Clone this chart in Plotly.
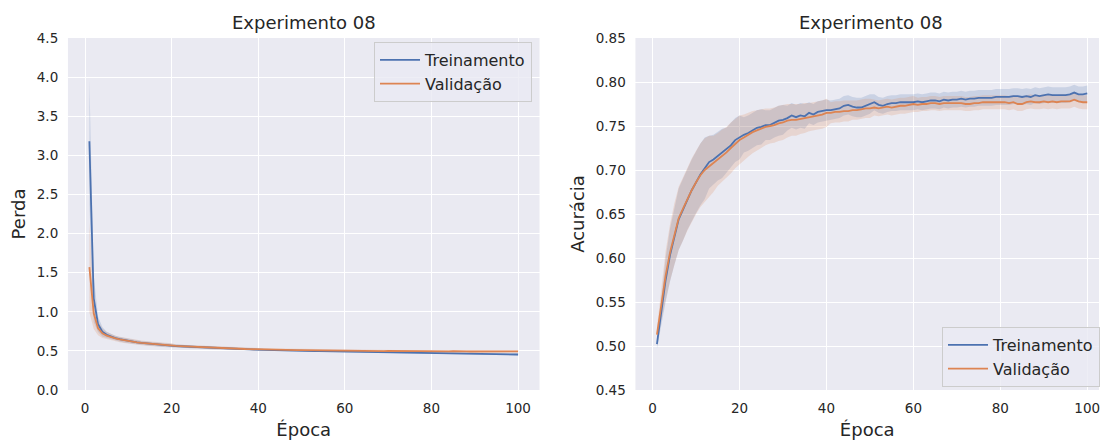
import plotly.graph_objects as go

# ---- data -----------------------------------------------------------------
epochs = list(range(1, 101))

train_loss = [
    3.180, 1.170, 0.840, 0.745, 0.705, 0.680, 0.663, 0.649, 0.637, 0.626,
    0.617, 0.609, 0.602, 0.596, 0.590, 0.585, 0.580, 0.576, 0.572, 0.566,
    0.562, 0.559, 0.556, 0.553, 0.550, 0.547, 0.544, 0.541, 0.538, 0.535,
    0.533, 0.531, 0.529, 0.527, 0.525, 0.523, 0.521, 0.519, 0.517, 0.515,
    0.513, 0.512, 0.510, 0.509, 0.507, 0.506, 0.505, 0.503, 0.502, 0.500,
    0.499, 0.498, 0.497, 0.496, 0.495, 0.493, 0.492, 0.491, 0.489, 0.488,
    0.487, 0.487, 0.486, 0.485, 0.484, 0.483, 0.482, 0.481, 0.479, 0.478,
    0.477, 0.476, 0.476, 0.475, 0.474, 0.473, 0.471, 0.469, 0.468, 0.467,
    0.467, 0.466, 0.466, 0.465, 0.465, 0.464, 0.463, 0.462, 0.462, 0.461,
    0.460, 0.460, 0.459, 0.458, 0.458, 0.457, 0.456, 0.456, 0.455, 0.454,
]
train_loss_ci = [
    0.800, 0.300, 0.100, 0.060, 0.040, 0.035, 0.030, 0.030, 0.030, 0.030,
    0.025, 0.025, 0.025, 0.025, 0.025, 0.025, 0.025, 0.025, 0.025, 0.025,
    0.020, 0.020, 0.020, 0.020, 0.020, 0.020, 0.020, 0.020, 0.020, 0.020,
    0.018, 0.018, 0.018, 0.018, 0.018, 0.018, 0.018, 0.018, 0.018, 0.018,
    0.015, 0.015, 0.015, 0.015, 0.015, 0.015, 0.015, 0.015, 0.015, 0.015,
    0.014, 0.014, 0.014, 0.014, 0.014, 0.014, 0.014, 0.014, 0.014, 0.014,
    0.013, 0.013, 0.013, 0.013, 0.013, 0.013, 0.013, 0.013, 0.013, 0.013,
    0.013, 0.013, 0.013, 0.013, 0.013, 0.013, 0.013, 0.013, 0.013, 0.013,
    0.012, 0.012, 0.012, 0.012, 0.012, 0.012, 0.012, 0.012, 0.012, 0.012,
    0.012, 0.012, 0.012, 0.012, 0.012, 0.012, 0.012, 0.012, 0.012, 0.012,
]
val_loss = [
    1.570, 0.980, 0.790, 0.725, 0.695, 0.675, 0.660, 0.647, 0.636, 0.626,
    0.617, 0.609, 0.602, 0.596, 0.591, 0.586, 0.581, 0.577, 0.573, 0.568,
    0.563, 0.560, 0.557, 0.554, 0.551, 0.548, 0.546, 0.543, 0.540, 0.537,
    0.535, 0.533, 0.531, 0.529, 0.528, 0.526, 0.524, 0.523, 0.521, 0.519,
    0.518, 0.517, 0.516, 0.515, 0.514, 0.513, 0.512, 0.511, 0.510, 0.509,
    0.508, 0.507, 0.507, 0.506, 0.505, 0.504, 0.508, 0.504, 0.503, 0.502,
    0.502, 0.501, 0.501, 0.500, 0.500, 0.499, 0.501, 0.499, 0.498, 0.499,
    0.498, 0.497, 0.498, 0.497, 0.496, 0.497, 0.495, 0.495, 0.494, 0.494,
    0.494, 0.493, 0.494, 0.493, 0.497, 0.493, 0.492, 0.493, 0.492, 0.492,
    0.491, 0.492, 0.491, 0.492, 0.492, 0.494, 0.491, 0.492, 0.492, 0.493,
]
val_loss_ci = [
    0.580, 0.200, 0.090, 0.060, 0.045, 0.040, 0.035, 0.035, 0.035, 0.035,
    0.030, 0.030, 0.030, 0.030, 0.030, 0.030, 0.030, 0.030, 0.030, 0.030,
    0.020, 0.020, 0.020, 0.020, 0.020, 0.020, 0.020, 0.020, 0.020, 0.020,
    0.018, 0.018, 0.018, 0.018, 0.018, 0.018, 0.018, 0.018, 0.018, 0.018,
    0.015, 0.015, 0.015, 0.015, 0.015, 0.015, 0.015, 0.015, 0.015, 0.015,
    0.014, 0.014, 0.014, 0.014, 0.014, 0.014, 0.014, 0.014, 0.014, 0.014,
    0.013, 0.013, 0.013, 0.013, 0.013, 0.013, 0.013, 0.013, 0.013, 0.013,
    0.013, 0.013, 0.013, 0.013, 0.013, 0.013, 0.013, 0.013, 0.013, 0.013,
    0.012, 0.012, 0.012, 0.012, 0.012, 0.012, 0.012, 0.012, 0.012, 0.012,
    0.012, 0.012, 0.012, 0.012, 0.012, 0.012, 0.012, 0.012, 0.012, 0.012,
]

train_acc = [
    0.502, 0.540, 0.575, 0.603, 0.625, 0.644, 0.655, 0.667, 0.677, 0.686,
    0.695, 0.702, 0.709, 0.712, 0.716, 0.719, 0.723, 0.728, 0.734, 0.737,
    0.740, 0.742, 0.745, 0.748, 0.749, 0.751, 0.751, 0.754, 0.756, 0.757,
    0.759, 0.762, 0.760, 0.762, 0.761, 0.765, 0.763, 0.766, 0.767, 0.768,
    0.768, 0.769, 0.770, 0.773, 0.774, 0.772, 0.771, 0.771, 0.773, 0.775,
    0.777, 0.774, 0.773, 0.775, 0.776, 0.776, 0.777, 0.777, 0.777, 0.777,
    0.778, 0.777, 0.778, 0.779, 0.779, 0.778, 0.780, 0.779, 0.780, 0.780,
    0.781, 0.780, 0.781, 0.781, 0.782, 0.782, 0.782, 0.782, 0.783, 0.783,
    0.783, 0.783, 0.784, 0.784, 0.783, 0.784, 0.783, 0.785, 0.784, 0.785,
    0.786, 0.785, 0.785, 0.785, 0.785, 0.786, 0.788, 0.786, 0.786, 0.787,
]
train_acc_ci = [
    0.005, 0.015, 0.025, 0.030, 0.033, 0.035, 0.035, 0.035, 0.035, 0.035,
    0.035, 0.035, 0.030, 0.028, 0.028, 0.028, 0.025, 0.025, 0.025, 0.025,
    0.020, 0.020, 0.020, 0.020, 0.020, 0.017, 0.017, 0.017, 0.017, 0.017,
    0.014, 0.014, 0.014, 0.014, 0.014, 0.012, 0.012, 0.012, 0.012, 0.012,
    0.011, 0.011, 0.011, 0.011, 0.011, 0.011, 0.011, 0.011, 0.011, 0.011,
    0.009, 0.009, 0.009, 0.009, 0.009, 0.009, 0.009, 0.009, 0.009, 0.009,
    0.009, 0.009, 0.009, 0.009, 0.009, 0.009, 0.009, 0.009, 0.009, 0.009,
    0.009, 0.009, 0.009, 0.009, 0.009, 0.009, 0.009, 0.009, 0.009, 0.009,
    0.009, 0.009, 0.009, 0.009, 0.009, 0.009, 0.009, 0.009, 0.009, 0.009,
    0.009, 0.009, 0.009, 0.009, 0.009, 0.009, 0.009, 0.009, 0.009, 0.009,
]
val_acc = [
    0.513, 0.548, 0.580, 0.606, 0.627, 0.645, 0.656, 0.667, 0.677, 0.686,
    0.694, 0.700, 0.704, 0.707, 0.712, 0.716, 0.720, 0.725, 0.730, 0.734,
    0.737, 0.740, 0.743, 0.745, 0.747, 0.749, 0.750, 0.751, 0.753, 0.754,
    0.756, 0.757, 0.757, 0.758, 0.759, 0.760, 0.761, 0.762, 0.763, 0.765,
    0.765, 0.766, 0.766, 0.767, 0.767, 0.768, 0.768, 0.769, 0.770, 0.770,
    0.771, 0.770, 0.771, 0.772, 0.771, 0.772, 0.773, 0.773, 0.774, 0.775,
    0.774, 0.775, 0.775, 0.776, 0.776, 0.775, 0.776, 0.776, 0.776, 0.776,
    0.776, 0.775, 0.775, 0.776, 0.776, 0.777, 0.777, 0.777, 0.777, 0.777,
    0.777, 0.776, 0.777, 0.775, 0.775, 0.777, 0.778, 0.777, 0.777, 0.778,
    0.777, 0.778, 0.777, 0.778, 0.778, 0.778, 0.780, 0.778, 0.777, 0.777,
]
val_acc_ci = [
    0.008, 0.018, 0.028, 0.032, 0.035, 0.036, 0.036, 0.036, 0.036, 0.036,
    0.036, 0.036, 0.035, 0.032, 0.030, 0.030, 0.029, 0.029, 0.028, 0.028,
    0.026, 0.025, 0.024, 0.023, 0.022, 0.021, 0.020, 0.020, 0.020, 0.020,
    0.019, 0.018, 0.018, 0.017, 0.017, 0.016, 0.016, 0.016, 0.016, 0.016,
    0.012, 0.012, 0.012, 0.012, 0.012, 0.011, 0.011, 0.011, 0.011, 0.011,
    0.009, 0.009, 0.009, 0.009, 0.009, 0.009, 0.009, 0.009, 0.009, 0.009,
    0.008, 0.008, 0.008, 0.008, 0.008, 0.008, 0.008, 0.008, 0.008, 0.008,
    0.008, 0.008, 0.008, 0.008, 0.008, 0.008, 0.008, 0.008, 0.008, 0.008,
    0.008, 0.008, 0.008, 0.008, 0.008, 0.008, 0.008, 0.008, 0.008, 0.008,
    0.008, 0.008, 0.008, 0.008, 0.008, 0.008, 0.008, 0.008, 0.008, 0.008,
]

series_names = ["Treinamento", "Validação"]
plot_title = "Experimento 08"

# ---- styling ---------------------------------------------------------------
BLUE = "#4C72B0"
ORANGE = "#DD8452"
BAND = {BLUE: "rgba(76,114,176,0.2)", ORANGE: "rgba(221,132,82,0.2)"}
TEXT = "#262626"
FONT = "DejaVu Sans"
W, H = 1100, 442


def band_trace(x, mean, ci, color, xa, ya):
    upper = [m + c for m, c in zip(mean, ci)]
    lower = [m - c for m, c in zip(mean, ci)]
    return go.Scatter(
        x=list(x) + list(x)[::-1],
        y=upper + lower[::-1],
        fill="toself", fillcolor=BAND[color],
        line=dict(width=0), mode="lines",
        hoverinfo="skip", showlegend=False, xaxis=xa, yaxis=ya,
    )


def line_trace(x, mean, color, name, xa, ya, legend):
    return go.Scatter(
        x=x, y=mean, mode="lines", name=name,
        line=dict(color=color, width=1.8),
        xaxis=xa, yaxis=ya, legend=legend,
    )


fig = go.Figure()

# loss panel
fig.add_trace(band_trace(epochs, train_loss, train_loss_ci, BLUE, "x", "y"))
fig.add_trace(band_trace(epochs, val_loss, val_loss_ci, ORANGE, "x", "y"))
fig.add_trace(line_trace(epochs, train_loss, BLUE, series_names[0], "x", "y", "legend"))
fig.add_trace(line_trace(epochs, val_loss, ORANGE, series_names[1], "x", "y", "legend"))

# accuracy panel
fig.add_trace(band_trace(epochs, train_acc, train_acc_ci, BLUE, "x2", "y2"))
fig.add_trace(band_trace(epochs, val_acc, val_acc_ci, ORANGE, "x2", "y2"))
fig.add_trace(line_trace(epochs, train_acc, BLUE, series_names[0], "x2", "y2", "legend2"))
fig.add_trace(line_trace(epochs, val_acc, ORANGE, series_names[1], "x2", "y2", "legend2"))

# panel geometry in pixels
left_x0, left_x1 = 68, 540
right_x0, right_x1 = 636, 1100
top_px, bottom_px = 38, 390
ydom = [(H - bottom_px) / H, (H - top_px) / H]

axis_common = dict(
    showgrid=True, gridcolor="white", gridwidth=1.2,
    zeroline=False, showline=False, automargin=False,
    ticks="outside", ticklen=6, tickcolor="rgba(0,0,0,0)",
    ticklabeloverflow="allow",
    tickfont=dict(family=FONT, size=13.5, color=TEXT),
    title_font=dict(family=FONT, size=18, color=TEXT),
)

legend_common = dict(
    xanchor="left", yanchor="top",
    bgcolor="rgba(234,234,242,0.8)", bordercolor="#CCCCCC", borderwidth=1,
    font=dict(family=FONT, size=16, color=TEXT),
    itemwidth=40,
)

fig.update_layout(
    width=W, height=H,
    margin=dict(l=0, r=0, t=0, b=0),
    paper_bgcolor="white", plot_bgcolor="#EAEAF2",
    font=dict(family=FONT, color=TEXT),
    xaxis=dict(domain=[left_x0 / W, left_x1 / W], range=[-3.95, 104.95],
               tickvals=[0, 20, 40, 60, 80, 100],
               title=dict(text="Época", standoff=8), **axis_common),
    yaxis=dict(domain=ydom, range=[0, 4.5], dtick=0.5, tickformat=".1f",
               title=dict(text="Perda", standoff=6), **axis_common),
    xaxis2=dict(domain=[right_x0 / W, right_x1 / W], range=[-3.95, 102.7],
                tickvals=[0, 20, 40, 60, 80, 100], anchor="y2",
                title=dict(text="Época", standoff=8), **axis_common),
    yaxis2=dict(domain=ydom, range=[0.45, 0.85], dtick=0.05, tickformat=".2f",
                anchor="x2",
                title=dict(text="Acurácia", standoff=6), **axis_common),
    legend=dict(x=374 / W, y=1 - 42 / H, **legend_common),
    legend2=dict(x=943 / W, y=1 - 327 / H, **legend_common),
    annotations=[
        dict(text=plot_title, x=304 / W, y=1 - 22 / H, xref="paper", yref="paper",
             showarrow=False, xanchor="center", yanchor="middle",
             font=dict(family=FONT, size=18, color=TEXT)),
        dict(text=plot_title, x=872 / W, y=1 - 22 / H, xref="paper", yref="paper",
             showarrow=False, xanchor="center", yanchor="middle",
             font=dict(family=FONT, size=18, color=TEXT)),
    ],
)

fig.write_html("out.html")
